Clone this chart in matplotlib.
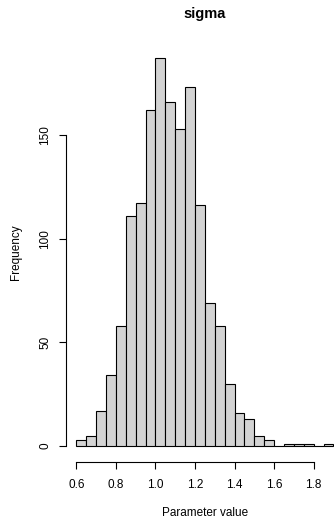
import numpy as np
import matplotlib
matplotlib.use("Agg")
import matplotlib.pyplot as plt

plt.rcParams['font.family'] = ['Liberation Sans', 'DejaVu Sans']

bin_start = 0.6
bin_width = 0.05
counts = [3, 5, 17, 34, 58, 111, 117, 162, 187, 166, 153, 173, 116, 69, 58,
          30, 16, 13, 5, 3, 0, 1, 1, 1, 0, 1]
xticks = [0.6, 0.8, 1.0, 1.2, 1.4, 1.6, 1.8]
xticklabels = ["0.6", "0.8", "1.0", "1.2", "1.4", "1.6", "1.8"]
yticks = [0, 50, 100, 150]
yticklabels = ["0", "50", "100", "150"]
title = "sigma"
xlabel = "Parameter value"
ylabel = "Frequency"

W, H = 334, 519
fig = plt.figure(figsize=(W / 100, H / 100), dpi=100)
ax = fig.add_axes([66 / W, 1 - 461.5 / H, (343.7 - 66) / W, (461.5 - 42.6) / H])

lefts = bin_start + bin_width * np.arange(len(counts))
ax.bar(lefts, counts, width=bin_width, align='edge', color='#D3D3D3',
       edgecolor='black', linewidth=0.8)

n = len(counts)
xmin, xmax = bin_start, bin_start + n * bin_width
pad = 0.04 * (xmax - xmin)
ax.set_xlim(xmin - pad, xmax + pad)
ymax = max(counts)
ax.set_ylim(-0.04 * ymax, 1.04 * ymax)

for s in ['top', 'right']:
    ax.spines[s].set_visible(False)
ax.spines['left'].set_bounds(yticks[0], yticks[-1])
ax.spines['bottom'].set_bounds(xticks[0], xticks[-1])
for s in ['left', 'bottom']:
    ax.spines[s].set_linewidth(0.8)

ax.set_xticks(xticks)
ax.set_xticklabels(xticklabels)
ax.set_yticks(yticks)
ax.set_yticklabels(yticklabels, rotation=90, va='center')
ax.tick_params(axis='both', direction='out', length=5, width=0.8, labelsize=8.5, color='black')
ax.tick_params(axis='x', pad=7.5)
ax.tick_params(axis='y', pad=5.5)

fig.text(205 / W, 1 - 14 / H, title, ha='center', va='center', fontsize=10.5, fontweight='bold')
fig.text(205 / W, 1 - 512.7 / H, xlabel, ha='center', va='center', fontsize=8.5)
fig.text(16 / W, 1 - 252 / H, ylabel, ha='center', va='center', fontsize=8.5, rotation=90)

fig.savefig('out.png', dpi=100)
